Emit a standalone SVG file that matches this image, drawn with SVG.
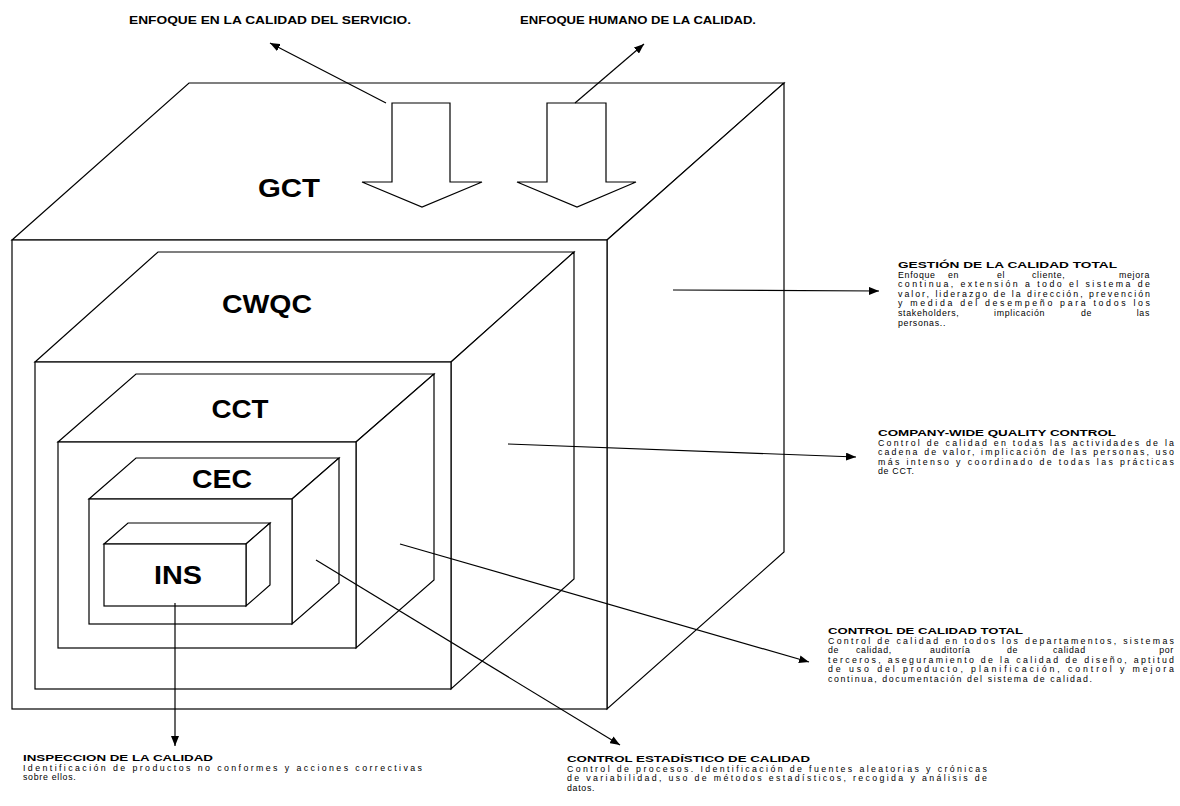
<svg xmlns="http://www.w3.org/2000/svg" width="1180" height="806" viewBox="0 0 1180 806">
<defs>
<marker id="ah" viewBox="0 0 10 8" refX="10" refY="4" markerWidth="10" markerHeight="8" orient="auto" markerUnits="userSpaceOnUse"><path d="M0,0 L10,4 L0,8 z" fill="#000"/></marker>
<style>
.cube{fill:#fff;stroke:#000;stroke-width:1.2;stroke-linejoin:miter}
.lbl{font-family:"Liberation Sans",Arial,sans-serif;font-weight:bold;font-size:25px;fill:#000;text-anchor:middle}
.hd{font-family:"Liberation Sans",Arial,sans-serif;font-weight:bold;font-size:10.5px;fill:#000}
.tt{font-family:"Liberation Sans",Arial,sans-serif;font-weight:bold;font-size:9.5px;fill:#000}
.bd{font-family:"Liberation Sans",Arial,sans-serif;font-size:8.8px;fill:#000;letter-spacing:0.7px}
.bj{font-family:"Liberation Sans",Arial,sans-serif;font-size:8.8px;fill:#000}
.end{text-anchor:end}
.con{fill:none;stroke:#000;stroke-width:1.2;marker-end:url(#ah)}
.blk{fill:#fff;stroke:#000;stroke-width:1.2}
</style>
</defs>
<rect width="1180" height="806" fill="#fff"/>

<g id="gct">
<polygon class="cube" points="12,240 189,83 784,83 607,240"/>
<polygon class="cube" points="607,240 784,83 784,552 607,709"/>
<rect class="cube" x="12" y="240" width="595" height="469"/>
<text class="lbl" x="289" y="197" textLength="62" lengthAdjust="spacingAndGlyphs">GCT</text>
</g>

<g id="cwqc">
<polygon class="cube" points="35,362 158,252 574,252 451,362"/>
<polygon class="cube" points="451,362 574,252 574,579 451,689"/>
<rect class="cube" x="35" y="362" width="416" height="327"/>
<text class="lbl" x="267" y="313" textLength="90" lengthAdjust="spacingAndGlyphs">CWQC</text>
</g>

<g id="cct">
<polygon class="cube" points="58,442 136,374 434,374 356,442"/>
<polygon class="cube" points="356,442 434,374 434,580 356,648"/>
<rect class="cube" x="58" y="442" width="298" height="206"/>
<text class="lbl" x="240" y="418" textLength="57" lengthAdjust="spacingAndGlyphs">CCT</text>
</g>

<g id="cec">
<polygon class="cube" points="89,499 136,458 339,458 292,499"/>
<polygon class="cube" points="292,499 339,458 339,583 292,624"/>
<rect class="cube" x="89" y="499" width="203" height="125"/>
<text class="lbl" x="222" y="488" textLength="60" lengthAdjust="spacingAndGlyphs">CEC</text>
</g>

<g id="ins">
<polygon class="cube" points="104,544 128,523 270,523 246,544"/>
<polygon class="cube" points="246,544 270,523 270,585 246,606"/>
<rect class="cube" x="104" y="544" width="142" height="62"/>
<text class="lbl" x="178" y="584" textLength="48" lengthAdjust="spacingAndGlyphs">INS</text>
</g>

<g id="focus-arrows">
<polygon class="blk" points="392,103 450,103 450,182 482,182 422,207 362,182 392,182"/>
<polygon class="blk" points="547,103 606,103 606,182 636,182 577,207 517,182 547,182"/>
</g>

<g id="connectors">
<line class="con" x1="386" y1="103" x2="270" y2="43"/>
<line class="con" x1="575" y1="103" x2="644" y2="44"/>
<line class="con" x1="673" y1="290" x2="879" y2="291"/>
<line class="con" x1="508" y1="444" x2="856" y2="457"/>
<line class="con" x1="400" y1="544" x2="809" y2="662"/>
<line class="con" x1="316" y1="560" x2="620" y2="745"/>
<line class="con" x1="175" y1="603" x2="175" y2="746"/>
</g>

<g id="headers">
<text class="hd" x="129" y="24" textLength="282" lengthAdjust="spacingAndGlyphs">ENFOQUE EN LA CALIDAD DEL SERVICIO.</text>
<text class="hd" x="520" y="24" textLength="236" lengthAdjust="spacingAndGlyphs">ENFOQUE HUMANO DE LA CALIDAD.</text>
</g>

<g id="txt-gestion">
<text class="tt" x="898" y="268" textLength="219" lengthAdjust="spacingAndGlyphs">GESTIÓN DE LA CALIDAD TOTAL</text>
<text class="bd" y="277.6"><tspan x="898">Enfoque</tspan><tspan x="948">en</tspan><tspan x="997">el</tspan><tspan x="1032">cliente,</tspan><tspan x="1150" class="end">mejora</tspan></text>
<text class="bj" x="898" y="287.2" textLength="252" lengthAdjust="spacing">continua, extensión a todo el sistema de</text>
<text class="bj" x="898" y="296.8" textLength="252" lengthAdjust="spacing">valor, liderazgo de la dirección, prevención</text>
<text class="bj" x="898" y="306.4" textLength="252" lengthAdjust="spacing">y medida del desempeño para todos los</text>
<text class="bd" y="316"><tspan x="898">stakeholders,</tspan><tspan x="994">implicación</tspan><tspan x="1081">de</tspan><tspan x="1150" class="end">las</tspan></text>
<text class="bd" x="898" y="325.6">personas..</text>
</g>

<g id="txt-company">
<text class="tt" x="878" y="436" textLength="238" lengthAdjust="spacingAndGlyphs">COMPANY-WIDE QUALITY CONTROL</text>
<text class="bj" x="878" y="445.6" textLength="296" lengthAdjust="spacing">Control de calidad en todas las actividades de la</text>
<text class="bj" x="878" y="455.2" textLength="296" lengthAdjust="spacing">cadena de valor, implicación de las personas, uso</text>
<text class="bj" x="878" y="464.8" textLength="296" lengthAdjust="spacing">más intenso y coordinado de todas las prácticas</text>
<text class="bd" x="878" y="474.4">de CCT.</text>
</g>

<g id="txt-cct">
<text class="tt" x="828" y="634" textLength="195" lengthAdjust="spacingAndGlyphs">CONTROL DE CALIDAD TOTAL</text>
<text class="bj" x="828" y="643.6" textLength="346" lengthAdjust="spacing">Control de calidad en todos los departamentos, sistemas</text>
<text class="bd" y="653.2"><tspan x="828">de</tspan><tspan x="856">calidad,</tspan><tspan x="930">auditoría</tspan><tspan x="1007">de</tspan><tspan x="1053">calidad</tspan><tspan x="1174" class="end">por</tspan></text>
<text class="bj" x="828" y="662.8" textLength="346" lengthAdjust="spacing">terceros, aseguramiento de la calidad de diseño, aptitud</text>
<text class="bj" x="828" y="672.4" textLength="346" lengthAdjust="spacing">de uso del producto, planificación, control y mejora</text>
<text class="bj" x="828" y="682" textLength="264" lengthAdjust="spacing">continua, documentación del sistema de calidad.</text>
</g>

<g id="txt-ins">
<text class="tt" x="23" y="761" textLength="190" lengthAdjust="spacingAndGlyphs">INSPECCION DE LA CALIDAD</text>
<text class="bj" x="23" y="770.6" textLength="399" lengthAdjust="spacing">Identificación de productos no conformes y acciones correctivas</text>
<text class="bd" x="23" y="780.2">sobre ellos.</text>
</g>

<g id="txt-cec">
<text class="tt" x="567" y="762" textLength="243" lengthAdjust="spacingAndGlyphs">CONTROL ESTADÍSTICO DE CALIDAD</text>
<text class="bj" x="567" y="771.6" textLength="420" lengthAdjust="spacing">Control de procesos. Identificación de fuentes aleatorias y crónicas</text>
<text class="bj" x="567" y="781.2" textLength="420" lengthAdjust="spacing">de variabilidad, uso de métodos estadísticos, recogida y análisis de</text>
<text class="bd" x="567" y="790.8">datos.</text>
</g>
</svg>
